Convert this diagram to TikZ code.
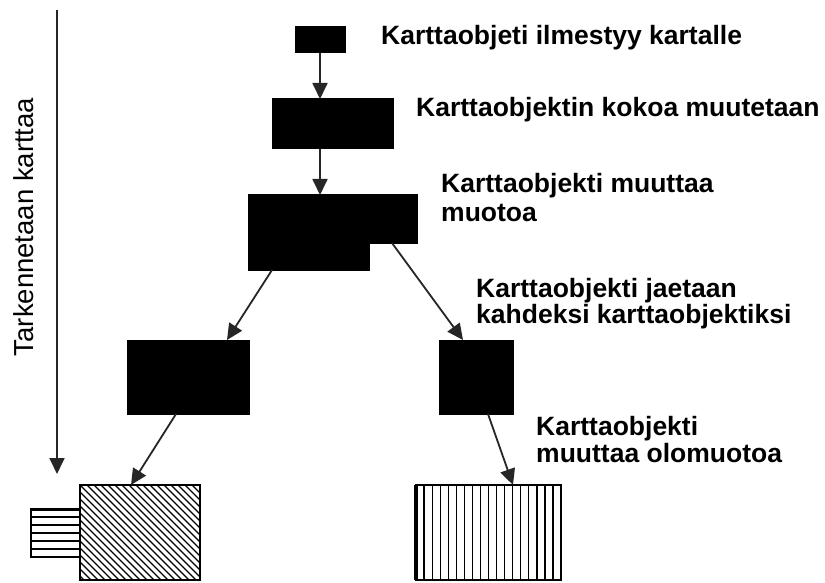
\documentclass[tikz,border=0pt]{standalone}
\usepackage{fontspec}
\setmainfont{Liberation Sans}
\usetikzlibrary{arrows.meta}
\begin{document}
\begin{tikzpicture}[x=1pt,y=-1pt,
  solidbox/.style={draw=black,fill=black,line width=1pt,inner sep=0pt,outer sep=0pt,rectangle},
  openbox/.style={draw=black,line width=1.3pt,inner sep=0pt,outer sep=0pt,rectangle},
  conn/.style={draw=black!85,line width=1.8pt,-{Triangle[length=16pt,width=15pt]}},
  caption/.style={font=\fontsize{26.5}{30}\selectfont\bfseries,inner sep=0pt,anchor=base west},
  hatch/.style={line width=1.2pt}]
\clip (0,0) rectangle (825,583);
\fill[white] (0,0) rectangle (825,583);

% refinement axis
\coordinate (axtop) at (57,10);
\coordinate (axbot) at (57,474);
\draw[conn] (axtop) -- (axbot);
\node[font=\fontsize{27.5}{30}\selectfont,rotate=90,anchor=base,inner sep=0pt] (axlabel) at (33,227) {Tarkennetaan karttaa};

% map object stages
\node[solidbox,minimum width=50pt,minimum height=26pt] (b1) at (320,40) {};
\node[solidbox,minimum width=121pt,minimum height=50pt] (b2) at (332.5,124) {};
\node[solidbox,minimum width=169pt,minimum height=48pt] (b3a) at (332.5,219) {};
\node[solidbox,minimum width=121pt,minimum height=75pt] (b3b) at (308.5,232.5) {};
\node[solidbox,minimum width=122pt,minimum height=74pt] (b4) at (188,377) {};
\node[solidbox,minimum width=74pt,minimum height=74pt] (b5) at (476,377) {};

% changed form: hatched objects
\node[openbox,minimum width=120pt,minimum height=95pt] (b6) at (140,532.5) {};
\node[openbox,minimum width=49pt,minimum height=48pt] (b6s) at (55.5,533) {};
\node[openbox,minimum width=145pt,minimum height=95pt] (b7) at (488.5,532.5) {};

\begin{scope}
  \clip (b6.north west) rectangle (b6.south east);
  \foreach \c in {-140,-133,...,520} {
    \draw[hatch] (80+\c,485) -- ++(200,200);
  }
\end{scope}
\foreach \k in {1,...,5} {
  \draw[hatch] (31,509+8*\k) -- (80,509+8*\k);
}
\draw[line width=3pt] (b6s.north west) -- (b6s.north east);
\foreach \k in {1,...,17} {
  \draw[hatch] (416+8.06*\k,485) -- (416+8.06*\k,580);
}
\draw[line width=3.5pt] (b7.north west) -- (b7.south west);
\draw[openbox] (b6.north west) rectangle (b6.south east);
\draw[openbox] (b6s.north west) rectangle (b6s.south east);
\draw[openbox] (b7.north west) rectangle (b7.south east);

% connectors
\draw[conn] (b1.south) -- (b1.south |- b2.north);
\draw[conn] (b1.south |- b2.south) -- (b1.south |- b3a.north);
\draw[conn] ([xshift=24pt]b3b.south west) -- ([xshift=-22pt]b4.north east);
\draw[conn] ([xshift=-25pt]b3a.south east) -- ([xshift=24pt]b5.north west);
\draw[conn] ([xshift=49pt]b4.south west) -- ([xshift=51pt]b6.north west);
\draw[conn] ([xshift=49pt]b5.south west) -- ([xshift=97pt]b7.north west);

% captions
\node[caption] (t1) at (381,45) {Karttaobjeti ilmestyy kartalle};
\node[caption] (t2) at (416,117) {Karttaobjektin kokoa muutetaan};
\node[caption] (t3a) at (441,193) {Karttaobjekti muuttaa};
\node[caption] (t3b) at (441,221) {muotoa};
\node[caption] (t4a) at (476,297) {Karttaobjekti jaetaan};
\node[caption] (t4b) at (476,323) {kahdeksi karttaobjektiksi};
\node[caption] (t5a) at (536,435) {Karttaobjekti};
\node[caption] (t5b) at (536,462) {muuttaa olomuotoa};
\end{tikzpicture}
\end{document}
